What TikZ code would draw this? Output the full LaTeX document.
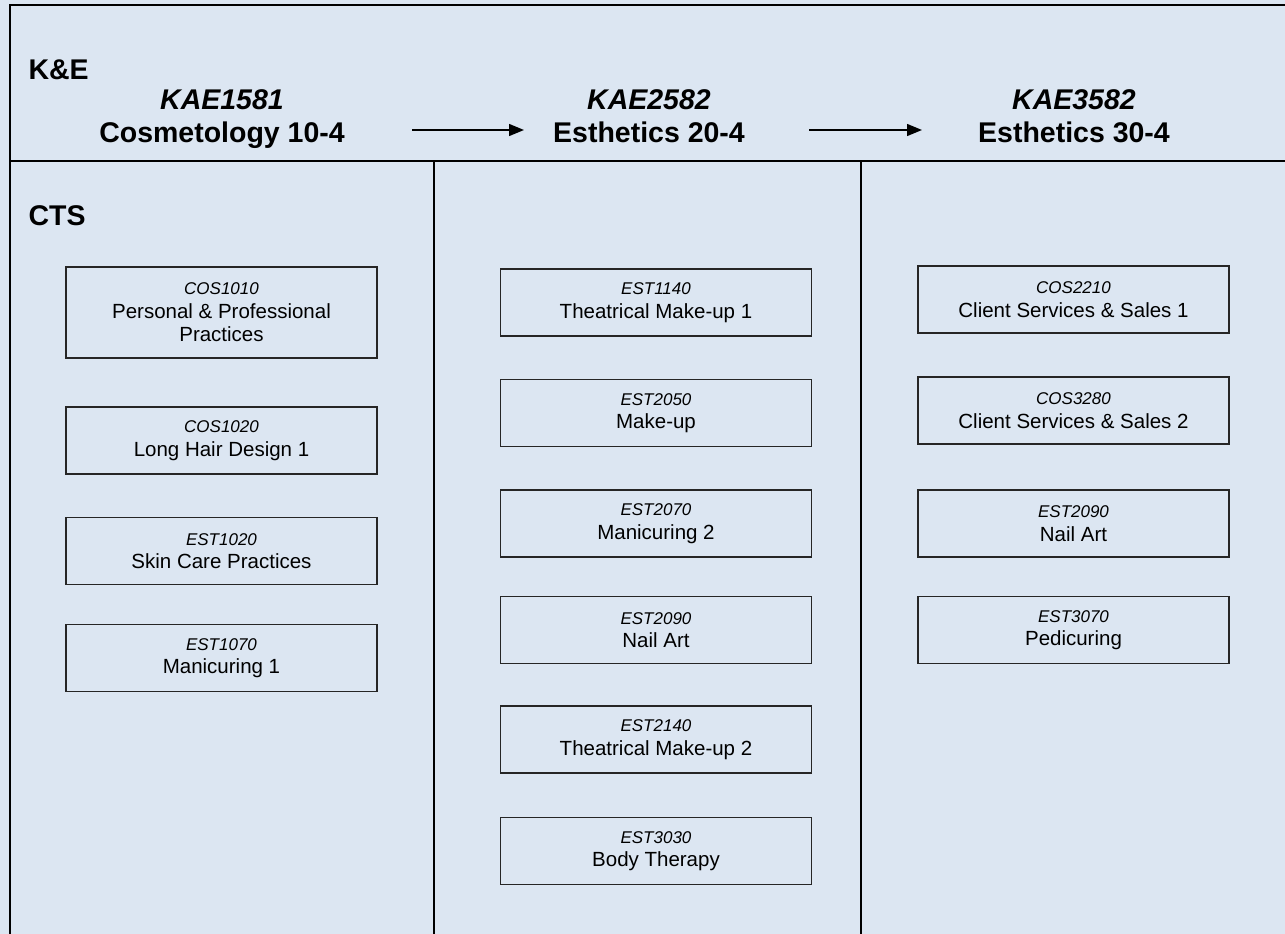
\documentclass[tikz,border=0pt]{standalone}
\usepackage{fontspec}
\setmainfont{Liberation Sans}
\usetikzlibrary{arrows.meta}
\definecolor{bgblue}{HTML}{DCE6F2}
\newcommand{\crstext}[2]{{\fontsize{17}{23.5}\selectfont\itshape #1}\\#2}
\begin{document}
\begin{tikzpicture}[x=1pt,y=-1pt,
  frame/.style={line width=2.2pt,black},
  course/.style={draw=black!85,line width=1.8pt,minimum width=311pt,minimum height=67pt,
    align=center,inner sep=0pt,font=\fontsize{20.5}{23.5}\selectfont},
  tallcourse/.style={course,minimum height=91pt},
  hd/.style={anchor=base,font=\fontsize{28.5}{32}\selectfont\bfseries},
  hdcode/.style={hd,font=\fontsize{28.5}{32}\selectfont\bfseries\itshape},
  flow/.style={line width=1.4pt,-{Triangle[length=15pt,width=12pt]}}]
\fill[bgblue] (0,0) rectangle (1285,934);
\useasboundingbox (0,0) rectangle (1285,934);
% frame
\draw[frame] (1285,5) -- (10,5) -- (10,934);
\draw[frame] (10,161) -- (1285,161);
\draw[frame] (434,161) -- (434,934);
\draw[frame] (861,161) -- (861,934);
% row labels
\node[hd,anchor=base west] (ke) at (25,79) {K\&E};
\node[hd,anchor=base west] (cts) at (25,225) {CTS};
% headings
\node[hdcode] (k1) at (222,110) {KAE1581};
\node[hd] (c1) at (222,142) {Cosmetology 10-4};
\node[hdcode] (k2) at (649,110) {KAE2582};
\node[hd] (c2) at (649,142) {Esthetics 20-4};
\node[hdcode] (k3) at (1074,110) {KAE3582};
\node[hd] (c3) at (1074,142) {Esthetics 30-4};
% arrows
\coordinate (a1s) at (412,130);
\coordinate (a1e) at (524,130);
\coordinate (a2s) at (809,130);
\coordinate (a2e) at (922,130);
\draw[flow] (a1s) -- (a1e);
\draw[flow] (a2s) -- (a2e);
% column 1
\node[tallcourse] (cos1010) at (221.5,312.5) {\crstext{COS1010}{Personal \& Professional\\Practices}};
\node[course] (cos1020) at (221.5,440.5) {\crstext{COS1020}{Long Hair Design 1}};
\node[course] (est1020) at (221.5,551) {\crstext{EST1020}{Skin Care Practices}};
\node[course] (est1070) at (221.5,658) {\crstext{EST1070}{Manicuring 1}};
% column 2
\node[course] (est1140) at (656,302.5) {\crstext{EST1140}{Theatrical Make-up 1}};
\node[course] (est2050) at (656,413) {\crstext{EST2050}{Make-up}};
\node[course] (est2070) at (656,523.5) {\crstext{EST2070}{Manicuring 2}};
\node[course] (est2090a) at (656,630) {\crstext{EST2090}{Nail Art}};
\node[course] (est2140) at (656,739.5) {\crstext{EST2140}{Theatrical Make-up 2}};
\node[course] (est3030) at (656,851) {\crstext{EST3030}{Body Therapy}};
% column 3
\node[course] (cos2210) at (1073.5,299.5) {\crstext{COS2210}{Client Services \& Sales 1}};
\node[course] (cos3280) at (1073.5,410.5) {\crstext{COS3280}{Client Services \& Sales 2}};
\node[course] (est2090b) at (1073.5,523.5) {\crstext{EST2090}{Nail Art}};
\node[course] (est3070) at (1073.5,630) {\crstext{EST3070}{Pedicuring}};
\end{tikzpicture}
\end{document}
